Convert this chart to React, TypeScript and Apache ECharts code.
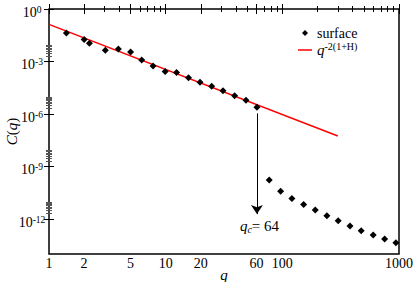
import React, { useEffect, useRef } from 'react';
import * as echarts from 'echarts';

// ---- data ----
const surfaceQ = [1.41, 2.0, 2.22, 3.04, 3.93, 5.0, 6.23, 7.8, 9.9, 12.4, 15.7, 19.7, 24.8, 31.0, 39.0, 48.8, 60.6];
const surfaceC = [4.23e-2, 1.78e-2, 1.1e-2, 4.38e-3, 5.19e-3, 3.5e-3, 1.23e-3, 5.57e-4, 2.67e-4, 2.35e-4, 1.16e-4, 6.58e-5, 3.89e-5, 2.1e-5, 1.09e-5, 6.19e-6, 2.47e-6];
const tailQ = [77.2, 96.7, 120.8, 152.2, 191.4, 241, 301, 380, 474, 601, 753, 940];
const tailC = [1.71e-10, 3.89e-11, 1.47e-11, 6.73e-12, 3.24e-12, 1.52e-12, 7.9e-13, 3.96e-13, 2.13e-13, 1.21e-13, 7.1e-14, 4.4e-14];
const fitQ = [1, 299];
const fitC = [0.133, 5.5e-8];
const seriesNames = ['surface', 'q^-2(1+H)'];

const xMajorTicks = [1, 2, 5, 10, 20, 60, 100, 1000];
const xMinorTicks = [3, 4, 6, 7, 8, 9, 30, 40, 50, 70, 80, 90, 200, 300, 400, 500, 600, 700, 800, 900];
const yMajorExponents = [0, -3, -6, -9, -12];
const yMinorDecades = [-3, -6, -9, -12];
const yMinorMultipliers = [2, 3, 4, 5, 6, 7, 8, 9];

const arrowQ = 60.6;
const arrowFrom = 1.08e-6;
const arrowTo = 1.9e-12;
const cutoffValue = '64';

const FONT = 'Liberation Serif';
const lg = (v: number) => Math.log10(v);

export default function App() {
  const ref = useRef<HTMLDivElement>(null);
  useEffect(() => {
    if (!ref.current) return;
    const chart = echarts.init(ref.current, undefined, { renderer: 'svg' });

    const xMajor = xMajorTicks.map(lg);
    const xMinor = xMinorTicks.map(lg);
    const yMinor: number[] = [];
    yMinorDecades.forEach((e) => yMinorMultipliers.forEach((k) => yMinor.push(e + lg(k))));

    const xBase = { type: 'value', min: 0, max: 3, splitLine: { show: false }, axisLine: { show: false } } as any;
    const yBase = { type: 'value', min: -14, max: 0, splitLine: { show: false }, axisLine: { show: false } } as any;
    const tick = (vals: number[], len: number, color = '#000') => ({
      show: true, inside: true, length: len, customValues: vals,
      lineStyle: { color, width: 1 },
    });
    const noLabel = { show: false };

    const points = surfaceQ.map((q, i) => [lg(q), lg(surfaceC[i])])
      .concat(tailQ.map((q, i) => [lg(q), lg(tailC[i])]));
    const fit = fitQ.map((q, i) => [lg(q), lg(fitC[i])]);

    chart.setOption({
      animation: false,
      backgroundColor: '#fff',
      textStyle: { fontFamily: FONT, color: '#000' },
      grid: {
        left: 49, top: 9, width: 350, height: 245, show: true, borderColor: '#000', borderWidth: 1.5,
        backgroundColor: 'transparent', outerBoundsMode: 'none', containLabel: false,
      },
      legend: {
        orient: 'vertical', left: 293, top: 21, itemWidth: 14, itemHeight: 6, itemGap: 1,
        selectedMode: false,
        data: [
          { name: seriesNames[0], icon: 'path://M5,0L10,5L5,10L0,5Z' },
          { name: seriesNames[1], icon: 'path://M0,0L14,0L14,1.5L0,1.5Z' },
        ],
        formatter: (name: string) => (name === seriesNames[0] ? '{t|surface}' : '{q|q}{s|-2(1+H)}'),
        textStyle: {
          fontFamily: FONT, color: '#000', fontSize: 14,
          rich: {
            t: { fontSize: 14, fontFamily: FONT, color: '#000' },
            q: { fontSize: 15, fontStyle: 'italic', fontFamily: FONT, color: '#000' },
            s: { fontSize: 10, fontFamily: FONT, color: '#000', padding: [0, 0, 8, 0] },
          },
        },
      },
      xAxis: [
        {
          ...xBase, position: 'bottom', axisTick: tick(xMajor, 5),
          name: 'q', nameLocation: 'middle', nameGap: 13, nameMoveOverlap: false,
          nameTextStyle: { fontFamily: FONT, fontSize: 15, fontStyle: 'italic', color: '#000' },
          axisLabel: {
            customValues: xMajor, margin: 2, fontFamily: FONT, fontSize: 14, color: '#000',
            formatter: (v: number) => String(Math.round(Math.pow(10, v))),
          },
        },
        { ...xBase, position: 'bottom', axisTick: tick(xMinor, 3), axisLabel: noLabel },
        { ...xBase, position: 'top', axisTick: tick(xMajor, 5), axisLabel: noLabel },
        { ...xBase, position: 'top', axisTick: tick(xMinor, 3), axisLabel: noLabel },
      ],
      yAxis: [
        {
          ...yBase, position: 'left', axisTick: tick(yMajorExponents, 5),
          name: '{i|C}{n|(}{i|q}{n|)}', nameLocation: 'middle', nameGap: 30, nameMoveOverlap: false,
          nameTextStyle: {
            fontFamily: FONT, fontSize: 15, color: '#000',
            rich: {
              i: { fontFamily: FONT, fontSize: 15, fontStyle: 'italic', color: '#000' },
              n: { fontFamily: FONT, fontSize: 15, color: '#000' },
            },
          },
          axisLabel: {
            customValues: yMajorExponents, margin: 17, align: 'center',
            formatter: (v: number) => `{b|10}{s|${Math.round(v)}}`,
            rich: {
              b: { fontFamily: FONT, fontSize: 14, color: '#000', padding: [6, 0, 0, 0] },
              s: { fontFamily: FONT, fontSize: 9.5, color: '#000', padding: [1, 0, 0, 0] },
            },
          },
        },
        { ...yBase, position: 'left', axisTick: tick(yMinor, 3, '#555'), axisLabel: noLabel },
        { ...yBase, position: 'right', axisTick: tick(yMajorExponents, 5), axisLabel: noLabel },
        { ...yBase, position: 'right', axisTick: tick(yMinor, 3, '#555'), axisLabel: noLabel },
      ],
      series: [
        {
          type: 'scatter', name: seriesNames[0], data: points,
          symbol: 'diamond', symbolSize: 7, itemStyle: { color: '#000', opacity: 1 }, z: 3,
          markLine: {
            silent: true, symbol: ['none', 'arrow'], symbolSize: 9,
            lineStyle: { color: '#000', width: 1, type: 'solid' },
            emphasis: { disabled: true },
            label: {
              show: true, position: 'end', distance: 4,
              formatter: '{p|q}{c|c}{e|= ' + cutoffValue + '}',
              rich: {
                p: { fontFamily: FONT, fontSize: 15, fontStyle: 'italic', color: '#000', padding: [0, 0, 0, 5] },
                c: { fontFamily: FONT, fontSize: 10, fontStyle: 'italic', color: '#000', padding: [6, 0, 0, 0] },
                e: { fontFamily: FONT, fontSize: 15, color: '#000' },
              },
            },
            data: [[{ coord: [lg(arrowQ), lg(arrowFrom)] }, { coord: [lg(arrowQ), lg(arrowTo)] }]],
          },
        },
        {
          type: 'line', name: seriesNames[1], data: fit, symbol: 'none',
          lineStyle: { color: '#ff0000', width: 1.5 }, itemStyle: { color: '#ff0000' },
        },
      ],
    });
    return () => chart.dispose();
  }, []);
  return <div ref={ref} style={{ width: 415, height: 282, position: 'absolute', left: 0, top: 0 }} />;
}
